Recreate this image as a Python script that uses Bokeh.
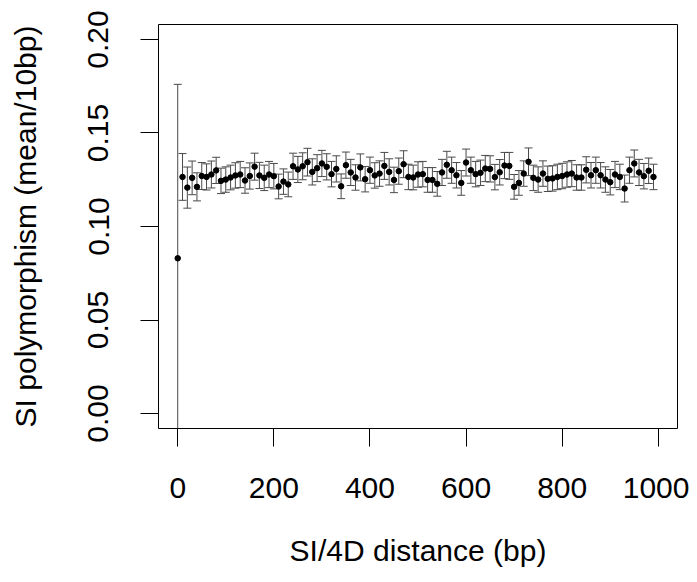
from bokeh.plotting import figure
from bokeh.models import Range1d, FixedTicker
from bokeh.embed import file_html
from bokeh.resources import INLINE

# distance bins (bp)
distance = [i * 10 for i in range(100)]

# mean SI polymorphism per 10bp
mean_poly = [
    0.0830, 0.1265, 0.1208, 0.1260, 0.1212, 0.1270, 0.1265, 0.1278, 0.1300, 0.1244,
    0.1251, 0.1262, 0.1273, 0.1278, 0.1246, 0.1270, 0.1320, 0.1273, 0.1260, 0.1278,
    0.1269, 0.1214, 0.1240, 0.1225, 0.1322, 0.1305, 0.1322, 0.1344, 0.1292, 0.1312,
    0.1337, 0.1319, 0.1280, 0.1308, 0.1215, 0.1328, 0.1289, 0.1262, 0.1316, 0.1253,
    0.1301, 0.1273, 0.1283, 0.1324, 0.1292, 0.1249, 0.1296, 0.1333, 0.1265, 0.1262,
    0.1278, 0.1280, 0.1249, 0.1249, 0.1228, 0.1289, 0.1330, 0.1301, 0.1274, 0.1233,
    0.1342, 0.1301, 0.1280, 0.1287, 0.1310, 0.1308, 0.1264, 0.1290, 0.1326, 0.1324,
    0.1212, 0.1233, 0.1283, 0.1346, 0.1260, 0.1251, 0.1283, 0.1255, 0.1257, 0.1265,
    0.1270, 0.1278, 0.1283, 0.1262, 0.1262, 0.1303, 0.1274, 0.1301, 0.1274, 0.1251,
    0.1237, 0.1278, 0.1265, 0.1203, 0.1301, 0.1337, 0.1289, 0.1269, 0.1298, 0.1265,
]

# standard error of the mean
se_poly = [
    0.0930, 0.0125, 0.0110, 0.0090, 0.0075, 0.0072, 0.0070, 0.0072, 0.0070, 0.0068,
    0.0068, 0.0066, 0.0068, 0.0070, 0.0068, 0.0070, 0.0072, 0.0070, 0.0068, 0.0070,
    0.0068, 0.0066, 0.0068, 0.0066, 0.0070, 0.0070, 0.0072, 0.0074, 0.0070, 0.0072,
    0.0070, 0.0070, 0.0068, 0.0070, 0.0066, 0.0070, 0.0070, 0.0068, 0.0072, 0.0068,
    0.0070, 0.0068, 0.0068, 0.0072, 0.0070, 0.0068, 0.0070, 0.0072, 0.0068, 0.0066,
    0.0068, 0.0068, 0.0066, 0.0066, 0.0066, 0.0070, 0.0072, 0.0070, 0.0068, 0.0066,
    0.0072, 0.0070, 0.0068, 0.0068, 0.0070, 0.0070, 0.0068, 0.0068, 0.0070, 0.0072,
    0.0066, 0.0066, 0.0068, 0.0074, 0.0068, 0.0068, 0.0068, 0.0068, 0.0068, 0.0068,
    0.0068, 0.0068, 0.0070, 0.0068, 0.0068, 0.0070, 0.0068, 0.0070, 0.0068, 0.0068,
    0.0068, 0.0070, 0.0068, 0.0072, 0.0070, 0.0072, 0.0070, 0.0068, 0.0068, 0.0068,
]

x_ticks = [0, 200, 400, 600, 800, 1000]
y_ticks = [0.0, 0.05, 0.10, 0.15, 0.20]
y_tick_labels = {0.0: "0.00", 0.05: "0.05", 0.1: "0.10", 0.15: "0.15", 0.2: "0.20"}

upper = [m + s for m, s in zip(mean_poly, se_poly)]
lower = [m - s for m, s in zip(mean_poly, se_poly)]

FONT = "Liberation Sans"
FS = "30px"

p = figure(width=689, height=574, output_backend="svg", toolbar_location=None,
           x_range=Range1d(-40, 1040), y_range=Range1d(-0.008, 0.208),
           min_border_left=158, min_border_right=12, min_border_top=24,
           min_border_bottom=146)
p.grid.visible = False
p.background_fill_color = "white"
p.border_fill_color = "white"
p.outline_line_color = "black"
p.outline_line_width = 1
p.outline_line_alpha = 1

ERR = "#4a4a4a"
p.segment(x0=distance, y0=lower, x1=distance, y1=upper, line_color=ERR, line_width=1)
p.dash(x=distance, y=upper, size=8, line_color=ERR, line_width=1)
p.dash(x=distance, y=lower, size=8, line_color=ERR, line_width=1)
p.scatter(x=distance, y=mean_poly, size=5.5, fill_color="black", line_color="black")

for ax in (p.xaxis[0], p.yaxis[0]):
    ax.axis_line_color = None
    ax.major_tick_in = 0
    ax.major_tick_out = 18
    ax.major_tick_line_color = "black"
    ax.minor_tick_line_color = None
    ax.major_label_text_font = FONT
    ax.major_label_text_font_size = FS
    ax.major_label_text_color = "black"
    ax.axis_label_text_font = FONT
    ax.axis_label_text_font_size = FS
    ax.axis_label_text_font_style = "normal"
    ax.axis_label_text_color = "black"

p.xaxis.ticker = FixedTicker(ticks=x_ticks)
p.yaxis.ticker = FixedTicker(ticks=y_ticks)
p.yaxis.major_label_overrides = y_tick_labels
p.yaxis.major_label_orientation = "vertical"
p.xaxis.axis_label = "SI/4D distance (bp)"
p.yaxis.axis_label = "SI polymorphism (mean/10bp)"
p.xaxis.major_label_standoff = 31
p.yaxis.major_label_standoff = 32
p.xaxis.axis_label_standoff = 33
p.yaxis.axis_label_standoff = 44

open("out.html", "w").write(file_html(p, INLINE))
